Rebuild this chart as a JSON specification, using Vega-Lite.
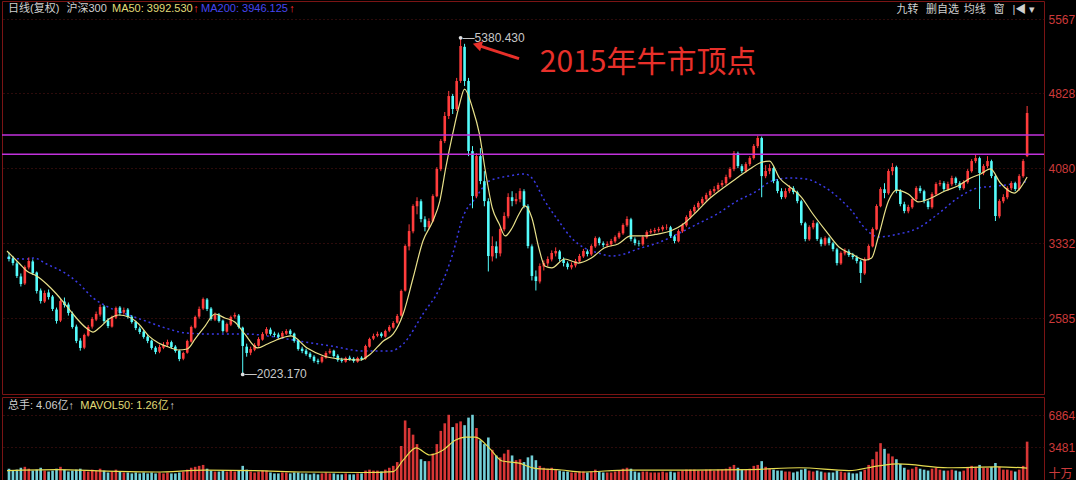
{
"$schema":"https://vega.github.io/schema/vega-lite/v6.json",
"background":"#000000",
"padding":0,
"spacing":1,
"config":{"view":{"stroke":"#7a1414","strokeWidth":1},"font":"Noto Sans CJK SC"},
"datasets":{
"candles":[
{"i":0,"o":3200,"h":3240,"l":3150,"c":3174,"v":1200},
{"i":1,"o":3180,"h":3205,"l":3110,"c":3134,"v":1000},
{"i":2,"o":3130,"h":3150,"l":2985,"c":3005,"v":1100},
{"i":3,"o":3000,"h":3030,"l":2900,"c":2925,"v":1300},
{"i":4,"o":2930,"h":3110,"l":2915,"c":3094,"v":1400},
{"i":5,"o":3090,"h":3190,"l":3070,"c":3154,"v":1200},
{"i":6,"o":3150,"h":3170,"l":3015,"c":3035,"v":1000},
{"i":7,"o":3040,"h":3050,"l":2830,"c":2855,"v":1100},
{"i":8,"o":2860,"h":2880,"l":2730,"c":2755,"v":1300},
{"i":9,"o":2750,"h":2860,"l":2735,"c":2835,"v":1000},
{"i":10,"o":2840,"h":2870,"l":2770,"c":2795,"v":900},
{"i":11,"o":2800,"h":2815,"l":2655,"c":2676,"v":1000},
{"i":12,"o":2670,"h":2690,"l":2530,"c":2556,"v":1200},
{"i":13,"o":2560,"h":2775,"l":2545,"c":2755,"v":1400},
{"i":14,"o":2750,"h":2790,"l":2690,"c":2716,"v":1100},
{"i":15,"o":2720,"h":2740,"l":2610,"c":2636,"v":900},
{"i":16,"o":2630,"h":2650,"l":2480,"c":2496,"v":1000},
{"i":17,"o":2500,"h":2520,"l":2335,"c":2357,"v":1100},
{"i":18,"o":2360,"h":2385,"l":2260,"c":2287,"v":1200},
{"i":19,"o":2290,"h":2430,"l":2275,"c":2417,"v":1000},
{"i":20,"o":2410,"h":2515,"l":2400,"c":2496,"v":900},
{"i":21,"o":2500,"h":2595,"l":2480,"c":2576,"v":1100},
{"i":22,"o":2570,"h":2650,"l":2555,"c":2626,"v":1000},
{"i":23,"o":2620,"h":2720,"l":2600,"c":2696,"v":1200},
{"i":24,"o":2700,"h":2715,"l":2535,"c":2556,"v":1000},
{"i":25,"o":2560,"h":2585,"l":2485,"c":2506,"v":800},
{"i":26,"o":2500,"h":2610,"l":2490,"c":2596,"v":900},
{"i":27,"o":2590,"h":2700,"l":2575,"c":2686,"v":1100},
{"i":28,"o":2690,"h":2705,"l":2610,"c":2636,"v":900},
{"i":29,"o":2640,"h":2690,"l":2620,"c":2666,"v":800},
{"i":30,"o":2670,"h":2685,"l":2580,"c":2596,"v":800},
{"i":31,"o":2600,"h":2615,"l":2530,"c":2546,"v":700},
{"i":32,"o":2550,"h":2560,"l":2465,"c":2486,"v":800},
{"i":33,"o":2480,"h":2500,"l":2425,"c":2446,"v":700},
{"i":34,"o":2450,"h":2465,"l":2380,"c":2397,"v":800},
{"i":35,"o":2400,"h":2420,"l":2335,"c":2357,"v":700},
{"i":36,"o":2360,"h":2370,"l":2270,"c":2287,"v":800},
{"i":37,"o":2290,"h":2305,"l":2225,"c":2247,"v":700},
{"i":38,"o":2250,"h":2320,"l":2235,"c":2297,"v":800},
{"i":39,"o":2290,"h":2345,"l":2275,"c":2317,"v":700},
{"i":40,"o":2320,"h":2370,"l":2300,"c":2347,"v":800},
{"i":41,"o":2345,"h":2360,"l":2280,"c":2297,"v":700},
{"i":42,"o":2300,"h":2315,"l":2240,"c":2257,"v":700},
{"i":43,"o":2260,"h":2270,"l":2155,"c":2177,"v":800},
{"i":44,"o":2180,"h":2250,"l":2165,"c":2237,"v":900},
{"i":45,"o":2240,"h":2370,"l":2230,"c":2357,"v":1100},
{"i":46,"o":2350,"h":2510,"l":2340,"c":2496,"v":1300},
{"i":47,"o":2490,"h":2610,"l":2480,"c":2596,"v":1400},
{"i":48,"o":2600,"h":2700,"l":2580,"c":2676,"v":1500},
{"i":49,"o":2680,"h":2790,"l":2665,"c":2775,"v":1600},
{"i":50,"o":2770,"h":2785,"l":2655,"c":2676,"v":1200},
{"i":51,"o":2680,"h":2695,"l":2560,"c":2576,"v":1000},
{"i":52,"o":2570,"h":2640,"l":2555,"c":2616,"v":900},
{"i":53,"o":2620,"h":2635,"l":2540,"c":2556,"v":900},
{"i":54,"o":2560,"h":2570,"l":2440,"c":2456,"v":1000},
{"i":55,"o":2450,"h":2540,"l":2440,"c":2526,"v":900},
{"i":56,"o":2520,"h":2610,"l":2505,"c":2596,"v":1000},
{"i":57,"o":2600,"h":2640,"l":2580,"c":2616,"v":900},
{"i":58,"o":2610,"h":2625,"l":2480,"c":2496,"v":1000},
{"i":59,"o":2490,"h":2500,"l":2023.17,"c":2307,"v":1500},
{"i":60,"o":2300,"h":2330,"l":2200,"c":2237,"v":1100},
{"i":61,"o":2240,"h":2300,"l":2215,"c":2277,"v":900},
{"i":62,"o":2270,"h":2335,"l":2255,"c":2317,"v":800},
{"i":63,"o":2310,"h":2395,"l":2300,"c":2377,"v":900},
{"i":64,"o":2370,"h":2445,"l":2360,"c":2427,"v":1000},
{"i":65,"o":2430,"h":2495,"l":2410,"c":2476,"v":1000},
{"i":66,"o":2470,"h":2490,"l":2410,"c":2427,"v":800},
{"i":67,"o":2430,"h":2450,"l":2395,"c":2417,"v":700},
{"i":68,"o":2420,"h":2440,"l":2380,"c":2397,"v":700},
{"i":69,"o":2400,"h":2455,"l":2385,"c":2437,"v":800},
{"i":70,"o":2430,"h":2475,"l":2415,"c":2456,"v":800},
{"i":71,"o":2460,"h":2475,"l":2410,"c":2427,"v":700},
{"i":72,"o":2430,"h":2440,"l":2340,"c":2357,"v":800},
{"i":73,"o":2360,"h":2370,"l":2260,"c":2277,"v":800},
{"i":74,"o":2280,"h":2300,"l":2235,"c":2257,"v":700},
{"i":75,"o":2260,"h":2280,"l":2210,"c":2227,"v":700},
{"i":76,"o":2230,"h":2245,"l":2180,"c":2197,"v":600},
{"i":77,"o":2200,"h":2215,"l":2140,"c":2157,"v":700},
{"i":78,"o":2160,"h":2180,"l":2125,"c":2147,"v":600},
{"i":79,"o":2150,"h":2210,"l":2135,"c":2197,"v":700},
{"i":80,"o":2190,"h":2255,"l":2180,"c":2237,"v":800},
{"i":81,"o":2240,"h":2280,"l":2225,"c":2257,"v":700},
{"i":82,"o":2260,"h":2270,"l":2190,"c":2207,"v":700},
{"i":83,"o":2210,"h":2225,"l":2150,"c":2167,"v":600},
{"i":84,"o":2170,"h":2190,"l":2140,"c":2157,"v":600},
{"i":85,"o":2150,"h":2200,"l":2140,"c":2187,"v":700},
{"i":86,"o":2190,"h":2210,"l":2160,"c":2177,"v":600},
{"i":87,"o":2180,"h":2195,"l":2140,"c":2157,"v":600},
{"i":88,"o":2150,"h":2200,"l":2140,"c":2187,"v":700},
{"i":89,"o":2190,"h":2205,"l":2160,"c":2177,"v":700},
{"i":90,"o":2180,"h":2320,"l":2170,"c":2307,"v":1000},
{"i":91,"o":2300,"h":2390,"l":2290,"c":2377,"v":1100},
{"i":92,"o":2380,"h":2430,"l":2365,"c":2407,"v":1000},
{"i":93,"o":2410,"h":2450,"l":2395,"c":2427,"v":1000},
{"i":94,"o":2430,"h":2445,"l":2390,"c":2407,"v":900},
{"i":95,"o":2400,"h":2470,"l":2390,"c":2456,"v":1100},
{"i":96,"o":2460,"h":2515,"l":2445,"c":2496,"v":1300},
{"i":97,"o":2490,"h":2555,"l":2480,"c":2536,"v":1500},
{"i":98,"o":2540,"h":2625,"l":2530,"c":2606,"v":1900},
{"i":99,"o":2610,"h":2870,"l":2600,"c":2855,"v":3600},
{"i":100,"o":2860,"h":3320,"l":2850,"c":3304,"v":6300},
{"i":101,"o":3300,"h":3520,"l":3260,"c":3453,"v":5500},
{"i":102,"o":3450,"h":3720,"l":3430,"c":3703,"v":4800},
{"i":103,"o":3700,"h":3790,"l":3620,"c":3752,"v":3800},
{"i":104,"o":3750,"h":3770,"l":3540,"c":3573,"v":2200},
{"i":105,"o":3570,"h":3600,"l":3450,"c":3493,"v":2000},
{"i":106,"o":3490,"h":3580,"l":3470,"c":3553,"v":2000},
{"i":107,"o":3550,"h":3820,"l":3540,"c":3802,"v":2800},
{"i":108,"o":3800,"h":4090,"l":3790,"c":4072,"v":3800},
{"i":109,"o":4070,"h":4370,"l":4050,"c":4351,"v":5200},
{"i":110,"o":4350,"h":4640,"l":4330,"c":4600,"v":6000},
{"i":111,"o":4600,"h":4850,"l":4570,"c":4799,"v":6900},
{"i":112,"o":4800,"h":4820,"l":4620,"c":4670,"v":5600},
{"i":113,"o":4670,"h":4980,"l":4650,"c":4949,"v":6000},
{"i":114,"o":4950,"h":5380.43,"l":4930,"c":5298,"v":6200},
{"i":115,"o":5290,"h":5320,"l":4900,"c":4949,"v":5800},
{"i":116,"o":4950,"h":4980,"l":4200,"c":4251,"v":6600},
{"i":117,"o":4250,"h":4300,"l":3680,"c":3802,"v":6900},
{"i":118,"o":3800,"h":4230,"l":3780,"c":4201,"v":5500},
{"i":119,"o":4200,"h":4280,"l":3920,"c":3952,"v":4200},
{"i":120,"o":3950,"h":4050,"l":3700,"c":3752,"v":3800},
{"i":121,"o":3750,"h":3780,"l":3050,"c":3204,"v":4500},
{"i":122,"o":3200,"h":3400,"l":3150,"c":3304,"v":3200},
{"i":123,"o":3300,"h":3350,"l":3180,"c":3234,"v":2600},
{"i":124,"o":3230,"h":3490,"l":3200,"c":3473,"v":2400},
{"i":125,"o":3470,"h":3640,"l":3450,"c":3603,"v":2800},
{"i":126,"o":3600,"h":3830,"l":3580,"c":3792,"v":3200},
{"i":127,"o":3790,"h":3850,"l":3700,"c":3752,"v":2600},
{"i":128,"o":3750,"h":3830,"l":3720,"c":3772,"v":2100},
{"i":129,"o":3770,"h":3880,"l":3740,"c":3852,"v":2200},
{"i":130,"o":3850,"h":3870,"l":3680,"c":3703,"v":1900},
{"i":131,"o":3700,"h":3720,"l":3280,"c":3304,"v":2400},
{"i":132,"o":3300,"h":3320,"l":2960,"c":3005,"v":2600},
{"i":133,"o":3000,"h":3060,"l":2860,"c":2955,"v":2100},
{"i":134,"o":2950,"h":3130,"l":2930,"c":3104,"v":1500},
{"i":135,"o":3100,"h":3160,"l":3060,"c":3134,"v":1300},
{"i":136,"o":3130,"h":3200,"l":3100,"c":3174,"v":1200},
{"i":137,"o":3170,"h":3260,"l":3150,"c":3234,"v":1300},
{"i":138,"o":3230,"h":3290,"l":3200,"c":3254,"v":1100},
{"i":139,"o":3250,"h":3265,"l":3150,"c":3174,"v":1000},
{"i":140,"o":3170,"h":3190,"l":3100,"c":3134,"v":900},
{"i":141,"o":3130,"h":3150,"l":3070,"c":3094,"v":900},
{"i":142,"o":3090,"h":3140,"l":3070,"c":3114,"v":800},
{"i":143,"o":3110,"h":3175,"l":3090,"c":3154,"v":800},
{"i":144,"o":3150,"h":3225,"l":3135,"c":3204,"v":900},
{"i":145,"o":3200,"h":3275,"l":3185,"c":3254,"v":900},
{"i":146,"o":3250,"h":3270,"l":3200,"c":3224,"v":800},
{"i":147,"o":3220,"h":3320,"l":3205,"c":3304,"v":900},
{"i":148,"o":3300,"h":3400,"l":3285,"c":3383,"v":1100},
{"i":149,"o":3380,"h":3395,"l":3310,"c":3334,"v":900},
{"i":150,"o":3330,"h":3350,"l":3290,"c":3314,"v":800},
{"i":151,"o":3310,"h":3350,"l":3290,"c":3324,"v":800},
{"i":152,"o":3320,"h":3375,"l":3300,"c":3354,"v":800},
{"i":153,"o":3350,"h":3410,"l":3335,"c":3393,"v":900},
{"i":154,"o":3390,"h":3450,"l":3375,"c":3433,"v":1000},
{"i":155,"o":3430,"h":3530,"l":3415,"c":3513,"v":1200},
{"i":156,"o":3510,"h":3600,"l":3495,"c":3573,"v":1300},
{"i":157,"o":3570,"h":3585,"l":3350,"c":3374,"v":1200},
{"i":158,"o":3370,"h":3390,"l":3310,"c":3334,"v":900},
{"i":159,"o":3330,"h":3360,"l":3300,"c":3324,"v":800},
{"i":160,"o":3320,"h":3410,"l":3305,"c":3393,"v":900},
{"i":161,"o":3390,"h":3460,"l":3375,"c":3443,"v":900},
{"i":162,"o":3440,"h":3475,"l":3425,"c":3453,"v":800},
{"i":163,"o":3450,"h":3485,"l":3430,"c":3463,"v":800},
{"i":164,"o":3460,"h":3495,"l":3440,"c":3473,"v":800},
{"i":165,"o":3470,"h":3510,"l":3450,"c":3493,"v":900},
{"i":166,"o":3490,"h":3520,"l":3465,"c":3493,"v":800},
{"i":167,"o":3490,"h":3505,"l":3385,"c":3403,"v":900},
{"i":168,"o":3400,"h":3415,"l":3330,"c":3354,"v":800},
{"i":169,"o":3350,"h":3470,"l":3340,"c":3453,"v":900},
{"i":170,"o":3450,"h":3530,"l":3435,"c":3513,"v":1000},
{"i":171,"o":3510,"h":3610,"l":3495,"c":3593,"v":1100},
{"i":172,"o":3590,"h":3670,"l":3575,"c":3653,"v":1100},
{"i":173,"o":3650,"h":3715,"l":3630,"c":3693,"v":1100},
{"i":174,"o":3690,"h":3750,"l":3670,"c":3733,"v":1000},
{"i":175,"o":3730,"h":3795,"l":3710,"c":3772,"v":1000},
{"i":176,"o":3770,"h":3835,"l":3750,"c":3812,"v":1100},
{"i":177,"o":3810,"h":3870,"l":3790,"c":3852,"v":1100},
{"i":178,"o":3850,"h":3900,"l":3830,"c":3872,"v":1000},
{"i":179,"o":3870,"h":3935,"l":3850,"c":3912,"v":1100},
{"i":180,"o":3910,"h":3960,"l":3890,"c":3932,"v":1100},
{"i":181,"o":3930,"h":4015,"l":3910,"c":3992,"v":1200},
{"i":182,"o":3990,"h":4090,"l":3975,"c":4072,"v":1400},
{"i":183,"o":4070,"h":4251,"l":4050,"c":4231,"v":1600},
{"i":184,"o":4230,"h":4245,"l":4080,"c":4101,"v":1300},
{"i":185,"o":4100,"h":4120,"l":4030,"c":4052,"v":1100},
{"i":186,"o":4050,"h":4140,"l":4035,"c":4121,"v":1100},
{"i":187,"o":4120,"h":4200,"l":4100,"c":4181,"v":1200},
{"i":188,"o":4180,"h":4320,"l":4165,"c":4301,"v":1500},
{"i":189,"o":4300,"h":4403,"l":4280,"c":4381,"v":1600},
{"i":190,"o":4380,"h":4395,"l":3790,"c":4001,"v":2000},
{"i":191,"o":4000,"h":4110,"l":3980,"c":4052,"v":1400},
{"i":192,"o":4050,"h":4120,"l":4020,"c":4081,"v":1200},
{"i":193,"o":4080,"h":4095,"l":3930,"c":3952,"v":1100},
{"i":194,"o":3950,"h":3970,"l":3830,"c":3852,"v":1000},
{"i":195,"o":3850,"h":3880,"l":3770,"c":3792,"v":1000},
{"i":196,"o":3790,"h":3880,"l":3775,"c":3852,"v":900},
{"i":197,"o":3850,"h":3910,"l":3830,"c":3882,"v":900},
{"i":198,"o":3880,"h":3900,"l":3820,"c":3842,"v":800},
{"i":199,"o":3840,"h":3855,"l":3730,"c":3752,"v":900},
{"i":200,"o":3750,"h":3765,"l":3510,"c":3533,"v":1100},
{"i":201,"o":3530,"h":3545,"l":3350,"c":3374,"v":1200},
{"i":202,"o":3370,"h":3510,"l":3355,"c":3493,"v":1000},
{"i":203,"o":3490,"h":3560,"l":3470,"c":3533,"v":900},
{"i":204,"o":3530,"h":3545,"l":3355,"c":3374,"v":1000},
{"i":205,"o":3370,"h":3390,"l":3300,"c":3324,"v":900},
{"i":206,"o":3320,"h":3400,"l":3305,"c":3383,"v":800},
{"i":207,"o":3380,"h":3395,"l":3310,"c":3334,"v":800},
{"i":208,"o":3330,"h":3345,"l":3250,"c":3274,"v":800},
{"i":209,"o":3270,"h":3285,"l":3110,"c":3134,"v":1000},
{"i":210,"o":3130,"h":3250,"l":3115,"c":3234,"v":900},
{"i":211,"o":3230,"h":3280,"l":3210,"c":3254,"v":800},
{"i":212,"o":3250,"h":3270,"l":3195,"c":3214,"v":800},
{"i":213,"o":3210,"h":3235,"l":3170,"c":3194,"v":700},
{"i":214,"o":3190,"h":3210,"l":3130,"c":3154,"v":700},
{"i":215,"o":3150,"h":3165,"l":2935,"c":3035,"v":900},
{"i":216,"o":3030,"h":3190,"l":3015,"c":3174,"v":1100},
{"i":217,"o":3170,"h":3320,"l":3160,"c":3304,"v":1600},
{"i":218,"o":3300,"h":3490,"l":3290,"c":3473,"v":2200},
{"i":219,"o":3470,"h":3720,"l":3460,"c":3703,"v":3000},
{"i":220,"o":3700,"h":3890,"l":3690,"c":3872,"v":3900},
{"i":221,"o":3870,"h":3930,"l":3780,"c":3832,"v":3300},
{"i":222,"o":3830,"h":4070,"l":3815,"c":4052,"v":2800},
{"i":223,"o":4050,"h":4130,"l":4010,"c":4092,"v":2500},
{"i":224,"o":4090,"h":4105,"l":3830,"c":3852,"v":2200},
{"i":225,"o":3850,"h":3870,"l":3700,"c":3723,"v":1700},
{"i":226,"o":3720,"h":3745,"l":3630,"c":3653,"v":1300},
{"i":227,"o":3650,"h":3715,"l":3630,"c":3693,"v":1100},
{"i":228,"o":3690,"h":3790,"l":3675,"c":3772,"v":1200},
{"i":229,"o":3770,"h":3900,"l":3755,"c":3882,"v":1400},
{"i":230,"o":3880,"h":3905,"l":3830,"c":3852,"v":1200},
{"i":231,"o":3850,"h":3865,"l":3730,"c":3752,"v":1100},
{"i":232,"o":3750,"h":3770,"l":3670,"c":3693,"v":1000},
{"i":233,"o":3690,"h":3840,"l":3675,"c":3822,"v":1200},
{"i":234,"o":3820,"h":3940,"l":3805,"c":3922,"v":1300},
{"i":235,"o":3920,"h":3960,"l":3900,"c":3932,"v":1100},
{"i":236,"o":3930,"h":3950,"l":3850,"c":3872,"v":1000},
{"i":237,"o":3870,"h":3945,"l":3855,"c":3922,"v":1000},
{"i":238,"o":3920,"h":4005,"l":3900,"c":3982,"v":1100},
{"i":239,"o":3980,"h":3995,"l":3910,"c":3932,"v":1000},
{"i":240,"o":3930,"h":3950,"l":3860,"c":3882,"v":900},
{"i":241,"o":3880,"h":3960,"l":3865,"c":3942,"v":1000},
{"i":242,"o":3940,"h":4070,"l":3925,"c":4052,"v":1300},
{"i":243,"o":4050,"h":4170,"l":4035,"c":4151,"v":1500},
{"i":244,"o":4150,"h":4215,"l":4130,"c":4181,"v":1400},
{"i":245,"o":4180,"h":4195,"l":3673,"c":4032,"v":1600},
{"i":246,"o":4030,"h":4120,"l":4010,"c":4101,"v":1300},
{"i":247,"o":4100,"h":4200,"l":4080,"c":4151,"v":1300},
{"i":248,"o":4150,"h":4165,"l":3980,"c":4001,"v":1400},
{"i":249,"o":4000,"h":4015,"l":3553,"c":3603,"v":1800},
{"i":250,"o":3600,"h":3770,"l":3580,"c":3752,"v":1400},
{"i":251,"o":3750,"h":3820,"l":3730,"c":3792,"v":1100},
{"i":252,"o":3790,"h":3900,"l":3770,"c":3882,"v":1100},
{"i":253,"o":3880,"h":3950,"l":3860,"c":3932,"v":1000},
{"i":254,"o":3930,"h":3945,"l":3850,"c":3872,"v":900},
{"i":255,"o":3870,"h":4020,"l":3855,"c":4001,"v":1100},
{"i":256,"o":4000,"h":4170,"l":3985,"c":4151,"v":1500},
{"i":257,"o":4200,"h":4700,"l":4190,"c":4630,"v":4060}
],
"ma50":[
{"i":-0.5,"p":3254},{"i":2.75,"p":3124},{"i":4.5,"p":3055},{"i":7,"p":3005},{"i":9.5,"p":2925},{"i":12,"p":2825},{"i":14.5,"p":2706},{"i":17,"p":2586},{"i":19.5,"p":2486},{"i":21.25,"p":2446},{"i":22.75,"p":2486},{"i":25.25,"p":2576},{"i":27.75,"p":2616},{"i":30.25,"p":2596},{"i":32.75,"p":2526},{"i":35.25,"p":2407},{"i":37.75,"p":2337},{"i":40.25,"p":2297},{"i":42.75,"p":2267},{"i":45,"p":2277},{"i":47,"p":2377},{"i":49.5,"p":2506},{"i":52,"p":2626},{"i":54.5,"p":2586},{"i":57,"p":2546},{"i":59.5,"p":2427},{"i":62.75,"p":2287},{"i":65.25,"p":2327},{"i":67.5,"p":2367},{"i":71.25,"p":2407},{"i":75.25,"p":2287},{"i":79.5,"p":2207},{"i":83.75,"p":2177},{"i":88.75,"p":2167},{"i":91.25,"p":2227},{"i":94.5,"p":2357},{"i":97,"p":2427},{"i":99.5,"p":2626},{"i":102,"p":2985},{"i":104.5,"p":3354},{"i":107,"p":3553},{"i":108.75,"p":3752},{"i":110.25,"p":4082},{"i":112,"p":4421},{"i":113.75,"p":4720},{"i":115,"p":4869},{"i":117,"p":4680},{"i":118.75,"p":4421},{"i":120.25,"p":4052},{"i":122,"p":3683},{"i":123.75,"p":3523},{"i":125.25,"p":3404},{"i":127,"p":3483},{"i":128.75,"p":3623},{"i":130.25,"p":3703},{"i":132,"p":3583},{"i":133.75,"p":3284},{"i":135.25,"p":3104},{"i":137,"p":3085},{"i":140.25,"p":3174},{"i":143.75,"p":3134},{"i":147,"p":3184},{"i":150.25,"p":3284},{"i":153.75,"p":3324},{"i":157,"p":3404},{"i":160.25,"p":3404},{"i":163.75,"p":3423},{"i":167,"p":3453},{"i":170.25,"p":3523},{"i":173.75,"p":3653},{"i":177,"p":3782},{"i":180.25,"p":3882},{"i":183.75,"p":3982},{"i":187,"p":4072},{"i":189.5,"p":4131},{"i":192,"p":4151},{"i":194.5,"p":3982},{"i":197.75,"p":3872},{"i":200,"p":3792},{"i":202.75,"p":3633},{"i":206.25,"p":3453},{"i":209.5,"p":3294},{"i":212.75,"p":3224},{"i":216.25,"p":3164},{"i":217.75,"p":3184},{"i":219.5,"p":3404},{"i":222,"p":3752},{"i":224,"p":3862},{"i":227,"p":3822},{"i":229.5,"p":3743},{"i":232.75,"p":3782},{"i":236.25,"p":3852},{"i":239.5,"p":3902},{"i":242.75,"p":3982},{"i":245.25,"p":4022},{"i":247.75,"p":4072},{"i":250.25,"p":3932},{"i":253.75,"p":3832},{"i":255.25,"p":3882},{"i":257,"p":3992}
],
"ma200":[
{"i":-0.5,"p":3184},{"i":4.5,"p":3174},{"i":6.25,"p":3184},{"i":9.5,"p":3124},{"i":14.5,"p":3025},{"i":17.75,"p":2925},{"i":21.25,"p":2785},{"i":24.5,"p":2706},{"i":29.5,"p":2626},{"i":34.5,"p":2556},{"i":39.5,"p":2486},{"i":44.5,"p":2437},{"i":49.5,"p":2427},{"i":54.5,"p":2427},{"i":59.5,"p":2427},{"i":67,"p":2397},{"i":74.5,"p":2347},{"i":81.25,"p":2307},{"i":89.5,"p":2257},{"i":96.25,"p":2257},{"i":99.5,"p":2327},{"i":104.5,"p":2626},{"i":108.75,"p":2885},{"i":112,"p":3224},{"i":114.5,"p":3583},{"i":117.75,"p":3782},{"i":121.25,"p":3952},{"i":126.25,"p":4002},{"i":130.25,"p":4022},{"i":132,"p":3982},{"i":135.25,"p":3752},{"i":138.75,"p":3553},{"i":142,"p":3383},{"i":145.25,"p":3284},{"i":148.75,"p":3234},{"i":152,"p":3204},{"i":155.25,"p":3224},{"i":158.75,"p":3274},{"i":163.75,"p":3334},{"i":168.75,"p":3423},{"i":173.75,"p":3523},{"i":178.75,"p":3623},{"i":183.75,"p":3752},{"i":188.75,"p":3852},{"i":192,"p":3942},{"i":197,"p":3982},{"i":201.25,"p":3972},{"i":204.5,"p":3922},{"i":209.5,"p":3782},{"i":212.75,"p":3653},{"i":216.25,"p":3473},{"i":219.5,"p":3394},{"i":224.5,"p":3423},{"i":229.5,"p":3483},{"i":234.5,"p":3623},{"i":239.5,"p":3782},{"i":244.5,"p":3882},{"i":249.5,"p":3902},{"i":257,"p":3946}
],
"mavol":[
{"i":-0.5,"v":1000},{"i":12,"v":1100},{"i":24.5,"v":950},{"i":37,"v":850},{"i":49.5,"v":1050},{"i":62,"v":1000},{"i":74.5,"v":850},{"i":89.5,"v":800},{"i":97,"v":900},{"i":99.5,"v":2100},{"i":102.75,"v":3400},{"i":106.25,"v":2650},{"i":109.5,"v":3150},{"i":112.75,"v":4230},{"i":115.25,"v":4540},{"i":117.75,"v":4540},{"i":121.25,"v":3380},{"i":124.5,"v":2010},{"i":128.75,"v":1790},{"i":132.5,"v":1270},{"i":139.5,"v":1060},{"i":144.5,"v":850},{"i":156.25,"v":1060},{"i":172.75,"v":1060},{"i":187,"v":1100},{"i":199.5,"v":1300},{"i":212,"v":1000},{"i":219.5,"v":1500},{"i":224.5,"v":1700},{"i":237,"v":1300},{"i":249.5,"v":1400},{"i":257,"v":1260}
]
},
"vconcat":[
{
"width":1042,"height":393,
"layer":[
{"data":{"name":"ma200"},"mark":{"type":"line","color":"#3a3ae6","strokeWidth":1.5,"strokeDash":[2,3],"interpolate":"monotone"},
 "encoding":{"x":{"field":"i","type":"quantitative","scale":{"domain":[-0.5,260],"nice":false,"zero":false},"axis":null},
 "y":{"field":"p","type":"quantitative","scale":{"domain":[1828,5747],"nice":false,"zero":false},"axis":{"orient":"right","title":null,"values":[2585,3332,4080,4828,5567],"format":"d","grid":true,"gridColor":"#5a1616","gridDash":[1,3],"ticks":false,"domain":false,"labelColor":"#cc3a3a","labelFontSize":12,"labelPadding":4,"labelFont":"Liberation Sans"}}}},
{"data":{"name":"candles"},"mark":{"type":"rule","strokeWidth":1},
 "encoding":{"x":{"field":"i","type":"quantitative","scale":{"domain":[-0.5,260],"nice":false,"zero":false},"axis":null},
 "y":{"field":"l","type":"quantitative","scale":{"domain":[1828,5747],"nice":false,"zero":false},"axis":{"orient":"right","title":null,"values":[2585,3332,4080,4828,5567],"format":"d","grid":true,"gridColor":"#5a1616","gridDash":[1,3],"ticks":false,"domain":false,"labelColor":"#cc3a3a","labelFontSize":12,"labelPadding":4,"labelFont":"Liberation Sans"}},
 "y2":{"field":"h"},
 "color":{"condition":{"test":"datum.c >= datum.o","value":"#ff3c3c"},"value":"#54fcfc"}}},
{"data":{"name":"candles"},"mark":{"type":"bar","size":2.6},
 "encoding":{"x":{"field":"i","type":"quantitative","scale":{"domain":[-0.5,260],"nice":false,"zero":false},"axis":null},
 "y":{"field":"o","type":"quantitative","scale":{"domain":[1828,5747],"nice":false,"zero":false},"axis":{"orient":"right","title":null,"values":[2585,3332,4080,4828,5567],"format":"d","grid":true,"gridColor":"#5a1616","gridDash":[1,3],"ticks":false,"domain":false,"labelColor":"#cc3a3a","labelFontSize":12,"labelPadding":4,"labelFont":"Liberation Sans"}},
 "y2":{"field":"c"},
 "color":{"condition":{"test":"datum.c >= datum.o","value":"#ff3c3c"},"value":"#54fcfc"}}},
{"data":{"name":"ma50"},"mark":{"type":"line","color":"#e8e08a","strokeWidth":1.2,"interpolate":"monotone"},
 "encoding":{"x":{"field":"i","type":"quantitative","scale":{"domain":[-0.5,260],"nice":false,"zero":false},"axis":null},
 "y":{"field":"p","type":"quantitative","scale":{"domain":[1828,5747],"nice":false,"zero":false},"axis":{"orient":"right","title":null,"values":[2585,3332,4080,4828,5567],"format":"d","grid":true,"gridColor":"#5a1616","gridDash":[1,3],"ticks":false,"domain":false,"labelColor":"#cc3a3a","labelFontSize":12,"labelPadding":4,"labelFont":"Liberation Sans"}}}},
{"data":{"values":[{"p":4410},{"p":4220}]},"mark":{"type":"rule","color":"#c232dc","strokeWidth":1.5},
 "encoding":{"y":{"field":"p","type":"quantitative","scale":{"domain":[1828,5747],"nice":false,"zero":false},"axis":{"orient":"right","title":null,"values":[2585,3332,4080,4828,5567],"format":"d","grid":true,"gridColor":"#5a1616","gridDash":[1,3],"ticks":false,"domain":false,"labelColor":"#cc3a3a","labelFontSize":12,"labelPadding":4,"labelFont":"Liberation Sans"}}}},
{"data":{"values":[{"i":114,"p":5380.43},{"i":59,"p":2023.17}]},"mark":{"type":"point","filled":true,"color":"#e0e0e0","size":14,"opacity":1},
 "encoding":{"x":{"field":"i","type":"quantitative","scale":{"domain":[-0.5,260],"nice":false,"zero":false},"axis":null},
 "y":{"field":"p","type":"quantitative","scale":{"domain":[1828,5747],"nice":false,"zero":false},"axis":{"orient":"right","title":null,"values":[2585,3332,4080,4828,5567],"format":"d","grid":true,"gridColor":"#5a1616","gridDash":[1,3],"ticks":false,"domain":false,"labelColor":"#cc3a3a","labelFontSize":12,"labelPadding":4,"labelFont":"Liberation Sans"}}}},
{"data":{"values":[{"i":114,"p":5380.43,"t":"—5380.430"},{"i":59,"p":2023.17,"t":"—2023.170"}]},"mark":{"type":"text","align":"left","baseline":"middle","dx":2,"fontSize":12,"color":"#c8c8c8","font":"Liberation Sans"},
 "encoding":{"x":{"field":"i","type":"quantitative","scale":{"domain":[-0.5,260],"nice":false,"zero":false},"axis":null},
 "y":{"field":"p","type":"quantitative","scale":{"domain":[1828,5747],"nice":false,"zero":false},"axis":{"orient":"right","title":null,"values":[2585,3332,4080,4828,5567],"format":"d","grid":true,"gridColor":"#5a1616","gridDash":[1,3],"ticks":false,"domain":false,"labelColor":"#cc3a3a","labelFontSize":12,"labelPadding":4,"labelFont":"Liberation Sans"}},
 "text":{"field":"t"}}},
{"data":{"values":[{"i":128.75,"p":5172,"i2":118.8,"p2":5300}]},"mark":{"type":"rule","color":"#e8302a","strokeWidth":3},
 "encoding":{"x":{"field":"i","type":"quantitative","scale":{"domain":[-0.5,260],"nice":false,"zero":false},"axis":null},
 "x2":{"field":"i2"},
 "y":{"field":"p","type":"quantitative","scale":{"domain":[1828,5747],"nice":false,"zero":false},"axis":{"orient":"right","title":null,"values":[2585,3332,4080,4828,5567],"format":"d","grid":true,"gridColor":"#5a1616","gridDash":[1,3],"ticks":false,"domain":false,"labelColor":"#cc3a3a","labelFontSize":12,"labelPadding":4,"labelFont":"Liberation Sans"}},
 "y2":{"field":"p2"}}},
{"data":{"values":[{"i":118.2,"p":5308}]},"mark":{"type":"point","shape":"triangle-left","filled":true,"color":"#e8302a","size":110,"angle":17,"opacity":1},
 "encoding":{"x":{"field":"i","type":"quantitative","scale":{"domain":[-0.5,260],"nice":false,"zero":false},"axis":null},
 "y":{"field":"p","type":"quantitative","scale":{"domain":[1828,5747],"nice":false,"zero":false},"axis":{"orient":"right","title":null,"values":[2585,3332,4080,4828,5567],"format":"d","grid":true,"gridColor":"#5a1616","gridDash":[1,3],"ticks":false,"domain":false,"labelColor":"#cc3a3a","labelFontSize":12,"labelPadding":4,"labelFont":"Liberation Sans"}}}},
{"data":{"values":[{"i":134,"p":5129,"t":"2015年牛市顶点"}]},"mark":{"type":"text","align":"left","baseline":"middle","fontSize":30,"color":"#e8302a","font":"Noto Sans CJK SC"},
 "encoding":{"x":{"field":"i","type":"quantitative","scale":{"domain":[-0.5,260],"nice":false,"zero":false},"axis":null},
 "y":{"field":"p","type":"quantitative","scale":{"domain":[1828,5747],"nice":false,"zero":false},"axis":{"orient":"right","title":null,"values":[2585,3332,4080,4828,5567],"format":"d","grid":true,"gridColor":"#5a1616","gridDash":[1,3],"ticks":false,"domain":false,"labelColor":"#cc3a3a","labelFontSize":12,"labelPadding":4,"labelFont":"Liberation Sans"}},
 "text":{"field":"t"}}},
{"data":{"values":[
 {"i":-0.25,"p":5667,"t":"日线(复权)","k":"标题"},
 {"i":14.5,"p":5667,"t":"沪深300","k":"标题"},
 {"i":26,"p":5667,"t":"MA50: 3992.530","k":"MA50"},
 {"i":46.5,"p":5667,"t":"↑","k":"涨"},
 {"i":48.5,"p":5667,"t":"MA200: 3946.125","k":"MA200"},
 {"i":70.75,"p":5667,"t":"↑","k":"涨"},
 {"i":224,"p":5657,"t":"九转","k":"标题"},
 {"i":231.5,"p":5657,"t":"删自选","k":"标题"},
 {"i":241,"p":5657,"t":"均线","k":"标题"},
 {"i":248.5,"p":5657,"t":"窗","k":"标题"},
 {"i":253.3,"p":5657,"t":"|◀","k":"标题"},
 {"i":257.6,"p":5657,"t":"▾","k":"标题"}
 ]},"mark":{"type":"text","align":"left","baseline":"middle","fontSize":11,"font":"Liberation Sans, Noto Sans CJK SC"},
 "encoding":{"x":{"field":"i","type":"quantitative","scale":{"domain":[-0.5,260],"nice":false,"zero":false},"axis":null},
 "y":{"field":"p","type":"quantitative","scale":{"domain":[1828,5747],"nice":false,"zero":false},"axis":{"orient":"right","title":null,"values":[2585,3332,4080,4828,5567],"format":"d","grid":true,"gridColor":"#5a1616","gridDash":[1,3],"ticks":false,"domain":false,"labelColor":"#cc3a3a","labelFontSize":12,"labelPadding":4,"labelFont":"Liberation Sans"}},
 "text":{"field":"t"},
 "color":{"field":"k","type":"nominal","scale":{"domain":["标题","MA50","MA200","涨"],"range":["#d0d0d0","#e0dc78","#4646f0","#ff3030"]},"legend":null}}}
]
},
{
"width":1042,"height":84,
"layer":[
{"data":{"name":"candles"},"mark":{"type":"bar","size":2.6,"opacity":0.9},
 "encoding":{"x":{"field":"i","type":"quantitative","scale":{"domain":[-0.5,260],"nice":false,"zero":false},"axis":null},
 "y":{"field":"v","type":"quantitative","scale":{"domain":[-100,8780],"nice":false,"zero":false},"axis":{"orient":"right","title":null,"values":[700,3481,6864],"labelExpr":"datum.value == 700 ? '十万' : datum.label","format":"d","grid":true,"gridColor":"#5a1616","gridDash":[1,3],"gridOpacity":{"condition":{"test":"datum.value == 700","value":0},"value":1},"ticks":false,"domain":false,"labelColor":"#cc3a3a","labelFontSize":12,"labelPadding":4,"labelFont":"Liberation Sans, Noto Sans CJK SC"}},
 "y2":{"datum":0},
 "color":{"condition":{"test":"datum.c >= datum.o","value":"#f03c3c"},"value":"#7ee6ee"}}},
{"data":{"name":"mavol"},"mark":{"type":"line","color":"#e6dc50","strokeWidth":1.2,"interpolate":"monotone"},
 "encoding":{"x":{"field":"i","type":"quantitative","scale":{"domain":[-0.5,260],"nice":false,"zero":false},"axis":null},
 "y":{"field":"v","type":"quantitative","scale":{"domain":[-100,8780],"nice":false,"zero":false},"axis":{"orient":"right","title":null,"values":[700,3481,6864],"labelExpr":"datum.value == 700 ? '十万' : datum.label","format":"d","grid":true,"gridColor":"#5a1616","gridDash":[1,3],"gridOpacity":{"condition":{"test":"datum.value == 700","value":0},"value":1},"ticks":false,"domain":false,"labelColor":"#cc3a3a","labelFontSize":12,"labelPadding":4,"labelFont":"Liberation Sans, Noto Sans CJK SC"}}}},
{"data":{"values":[
 {"i":-0.25,"v":7822,"t":"总手: 4.06亿","k":"总手"},
 {"i":15,"v":7822,"t":"↑","k":"总手"},
 {"i":18,"v":7822,"t":"MAVOL50: 1.26亿","k":"MAVOL50"},
 {"i":40.5,"v":7822,"t":"↑","k":"总手"}
 ]},"mark":{"type":"text","align":"left","baseline":"middle","fontSize":11,"font":"Liberation Sans, Noto Sans CJK SC"},
 "encoding":{"x":{"field":"i","type":"quantitative","scale":{"domain":[-0.5,260],"nice":false,"zero":false},"axis":null},
 "y":{"field":"v","type":"quantitative","scale":{"domain":[-100,8780],"nice":false,"zero":false},"axis":{"orient":"right","title":null,"values":[700,3481,6864],"labelExpr":"datum.value == 700 ? '十万' : datum.label","format":"d","grid":true,"gridColor":"#5a1616","gridDash":[1,3],"gridOpacity":{"condition":{"test":"datum.value == 700","value":0},"value":1},"ticks":false,"domain":false,"labelColor":"#cc3a3a","labelFontSize":12,"labelPadding":4,"labelFont":"Liberation Sans, Noto Sans CJK SC"}},
 "text":{"field":"t"},
 "color":{"field":"k","type":"nominal","scale":{"domain":["总手","MAVOL50"],"range":["#ff3030","#e0dc78"]},"legend":null}}}
]
}
]
}
